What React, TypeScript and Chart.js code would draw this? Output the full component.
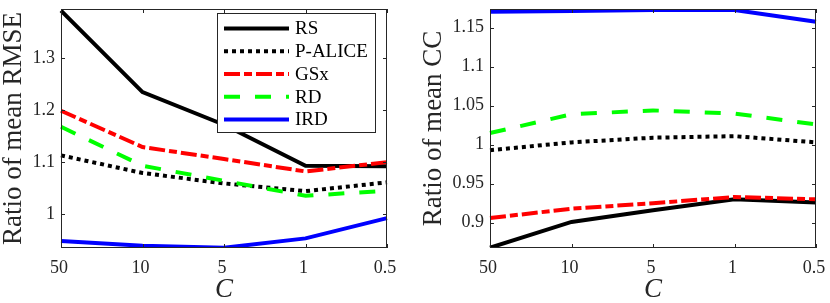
import React, { useEffect, useRef } from 'react';
import { Chart, registerables } from 'chart.js';

Chart.register(...registerables);

const categories = ['50', '10', '5', '1', '0.5'];
const seriesNames = ['RS', 'P-ALICE', 'GSx', 'RD', 'IRD'];

const rmseRS = [1.392, 1.235, 1.172, 1.093, 1.092];
const rmsePAlice = [1.113, 1.079, 1.059, 1.044, 1.061];
const rmseGSx = [1.199, 1.129, 1.106, 1.082, 1.1];
const rmseRD = [1.168, 1.093, 1.064, 1.035, 1.045];
const rmseIRD = [0.948, 0.939, 0.935, 0.953, 0.992];

const ccRS = [0.868, 0.901, 0.916, 0.93, 0.926];
const ccPAlice = [0.993, 1.003, 1.009, 1.011, 1.003];
const ccGSx = [0.906, 0.918, 0.925, 0.933, 0.93];
const ccRD = [1.015, 1.039, 1.044, 1.04, 1.026];
const ccIRD = [1.1705, 1.1714, 1.1727, 1.1727, 1.1577];

const rmseTicks = [1, 1.1, 1.2, 1.3];
const ccTicks = [0.9, 0.95, 1, 1.05, 1.1, 1.15];

const colors = ['#000000', '#000000', '#ff0000', '#00ff00', '#0000ff'];
const dashes: number[][] = [[], [4, 4], [16, 4, 8, 4], [16, 15], []];

const FONT = '"Liberation Serif", "Times New Roman", Times, serif';
const AXIS_COLOR = '#262626';

function makeDatasets(series: number[][]) {
  return series.map((d, i) => ({
    label: seriesNames[i],
    data: d,
    borderColor: colors[i],
    backgroundColor: colors[i],
    borderWidth: 4,
    borderDash: dashes[i],
    pointRadius: 0,
    tension: 0,
    fill: false,
    order: 5 - i,
  }));
}

const boxPlugin = {
  id: 'matlabBox',
  afterDraw(chart: any) {
    const { ctx, chartArea: a, scales } = chart;
    ctx.save();
    ctx.strokeStyle = AXIS_COLOR;
    ctx.lineWidth = 1;
    ctx.setLineDash([]);
    ctx.strokeRect(a.left + 0.5, a.top + 0.5, a.right - a.left - 1, a.bottom - a.top - 1);
    const tl = 4;
    ctx.beginPath();
    scales.y.ticks.forEach((t: any) => {
      const y = Math.round(scales.y.getPixelForValue(t.value)) + 0.5;
      ctx.moveTo(a.left, y);
      ctx.lineTo(a.left + tl, y);
      ctx.moveTo(a.right, y);
      ctx.lineTo(a.right - tl, y);
    });
    scales.x.ticks.forEach((t: any, i: number) => {
      const x = Math.round(scales.x.getPixelForTick(i)) + 0.5;
      ctx.moveTo(x, a.bottom);
      ctx.lineTo(x, a.bottom - tl);
      ctx.moveTo(x, a.top);
      ctx.lineTo(x, a.top + tl);
    });
    ctx.stroke();
    ctx.restore();
  },
};

const legendPlugin = {
  id: 'matlabLegend',
  afterDraw(chart: any) {
    const { ctx, chartArea: a } = chart;
    const right = a.right - 11;
    const left = right - 159;
    const top = a.top + 4;
    const h = 120;
    ctx.save();
    ctx.fillStyle = '#ffffff';
    ctx.fillRect(left, top, right - left, h);
    ctx.strokeStyle = AXIS_COLOR;
    ctx.lineWidth = 1;
    ctx.strokeRect(left + 0.5, top + 0.5, right - left - 1, h - 1);
    ctx.font = `19px ${FONT}`;
    ctx.textBaseline = 'middle';
    ctx.textAlign = 'left';
    chart.data.datasets.forEach((ds: any, i: number) => {
      const y = top + 15.5 + i * 22.75;
      ctx.beginPath();
      ctx.strokeStyle = ds.borderColor;
      ctx.lineWidth = ds.borderWidth;
      ctx.setLineDash(ds.borderDash || []);
      ctx.moveTo(left + 7, y);
      ctx.lineTo(left + 72, y);
      ctx.stroke();
      ctx.setLineDash([]);
      ctx.fillStyle = '#000000';
      ctx.fillText(ds.label, left + 78, y + 1);
    });
    ctx.restore();
  },
};

function fmt(v: any) {
  return String(Number(Number(v).toFixed(4)));
}

function makeConfig(
  series: number[][],
  ticks: number[],
  min: number,
  max: number,
  yTitle: string,
  yWidth: number,
  rightPad: number,
  yTitlePad: number,
  withLegend: boolean
): any {
  return {
    type: 'line',
    data: { labels: categories, datasets: makeDatasets(series) },
    plugins: withLegend ? [boxPlugin, legendPlugin] : [boxPlugin],
    options: {
      animation: false,
      responsive: false,
      maintainAspectRatio: false,
      layout: { padding: { left: 0, right: rightPad, top: 9, bottom: 0 } },
      plugins: { legend: { display: false }, tooltip: { enabled: false }, title: { display: false } },
      scales: {
        x: {
          type: 'category',
          offset: false,
          grid: { display: false, drawTicks: false },
          border: { display: false },
          ticks: {
            color: AXIS_COLOR,
            font: { family: FONT, size: 18 },
            padding: 9,
            maxRotation: 0,
            autoSkip: false,
            labelOffset: -2,
          },
          title: {
            display: true,
            text: 'C',
            color: AXIS_COLOR,
            font: { family: FONT, size: 27, style: 'italic', lineHeight: 1 },
            padding: { top: 0, bottom: 0 },
          },
          afterFit(scale: any) {
            scale.height = 55;
            scale.paddingLeft = 0;
            scale.paddingRight = 0;
          },
        },
        y: {
          type: 'linear',
          min,
          max,
          grid: { display: false, drawTicks: false },
          border: { display: false },
          ticks: {
            color: AXIS_COLOR,
            font: { family: FONT, size: 18 },
            padding: 6,
            callback: (v: any) => fmt(v),
          },
          afterBuildTicks(scale: any) {
            scale.ticks = ticks.map((v) => ({ value: v }));
          },
          title: {
            display: true,
            text: yTitle,
            color: AXIS_COLOR,
            font: { family: FONT, size: 27, lineHeight: 1 },
            padding: { top: yTitlePad, bottom: 0 },
          },
          afterFit(scale: any) {
            scale.width = yWidth;
            scale.paddingTop = 0;
            scale.paddingBottom = 0;
          },
        },
      },
    },
  };
}

function ChartPanel({ config, left }: { config: any; left: number }) {
  const ref = useRef<HTMLCanvasElement | null>(null);
  useEffect(() => {
    if (!ref.current) return;
    const chart = new Chart(ref.current, config);
    let alive = true;
    const fonts: any = (document as any).fonts;
    if (fonts && fonts.load) {
      Promise.all([
        fonts.load(`18px ${FONT}`),
        fonts.load(`italic 27px ${FONT}`),
      ])
        .then(() => {
          if (alive) chart.update();
        })
        .catch(() => {});
    }
    return () => {
      alive = false;
      chart.destroy();
    };
  }, [config]);
  return (
    <div style={{ position: 'absolute', left, top: 0, width: 415, height: 303 }}>
      <canvas ref={ref} width={415} height={303} style={{ width: 415, height: 303, display: 'block' }} />
    </div>
  );
}

const leftConfig = makeConfig(
  [rmseRS, rmsePAlice, rmseGSx, rmseRD, rmseIRD],
  rmseTicks,
  0.9345,
  1.395,
  'Ratio of mean RMSE',
  61,
  28,
  0,
  true
);

const rightConfig = makeConfig(
  [ccRS, ccPAlice, ccGSx, ccRD, ccIRD],
  ccTicks,
  0.8676,
  1.174,
  'Ratio of mean CC',
  75,
  14,
  5,
  false
);

export default function App() {
  return (
    <div style={{ position: 'absolute', left: 0, top: 0, width: 830, height: 303, background: '#ffffff', overflow: 'hidden', fontFamily: FONT }}>
      <ChartPanel config={leftConfig} left={0} />
      <ChartPanel config={rightConfig} left={415} />
    </div>
  );
}
